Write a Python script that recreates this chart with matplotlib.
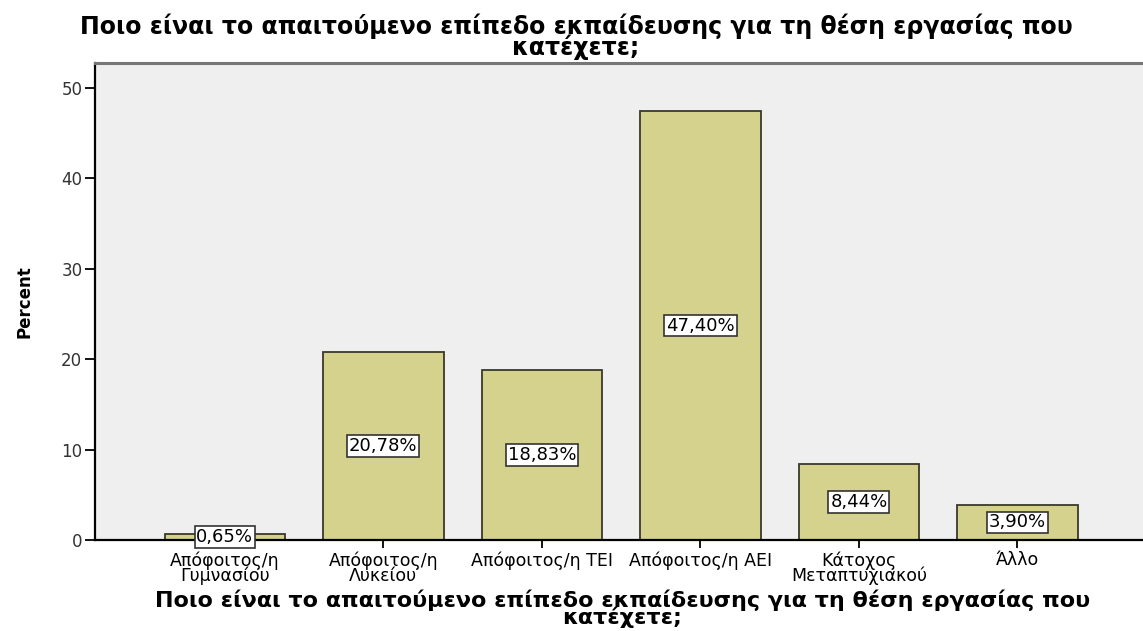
import matplotlib
matplotlib.use("Agg")
import matplotlib.pyplot as plt

categories = ["Απόφοιτος/η\nΓυμνασίου", "Απόφοιτος/η\nΛυκείου", "Απόφοιτος/η ΤΕΙ",
              "Απόφοιτος/η ΑΕΙ", "Κάτοχος\nΜεταπτυχιακού", "Άλλο"]
percent = [0.65, 20.78, 18.83, 47.40, 8.44, 3.90]
value_labels = ["0,65%", "20,78%", "18,83%", "47,40%", "8,44%", "3,90%"]
yticks = [0, 10, 20, 30, 40, 50]

title = "Ποιο είναι το απαιτούμενο επίπεδο εκπαίδευσης για τη θέση εργασίας που\nκατέχετε;"

fig = plt.figure(figsize=(11.43, 6.31), dpi=100)
ax = fig.add_axes([0.083, 0.144, 0.925, 0.756])
ax.set_facecolor("#efefef")

x = range(len(categories))
ax.bar(x, percent, width=0.76, color="#d5d28e", edgecolor="#3a3a2a", linewidth=1.3, zorder=2)

for xi, v, lab in zip(x, percent, value_labels):
    ax.text(xi, v / 2, lab, ha="center", va="center", fontsize=13, family="DejaVu Sans",
            zorder=3, bbox=dict(boxstyle="square,pad=0.1", fc="white", ec="#333333", lw=1.2))

ax.set_xlim(-0.82, 5.85)
ax.set_ylim(0, 52.7)
ax.set_yticks(yticks)
ax.set_yticklabels([str(t) for t in yticks], fontsize=12, family="DejaVu Sans", color="#333333")
ax.set_xticks(list(x))
ax.set_xticklabels(categories, fontsize=12.5, family="DejaVu Sans", linespacing=0.8)
ax.tick_params(axis="y", length=7, width=1.3, pad=2)
ax.tick_params(axis="x", length=6, width=1.3, pad=2)

ax.spines["left"].set_linewidth(1.6)
ax.spines["bottom"].set_linewidth(1.6)
ax.spines["top"].set_color("#777777")
ax.spines["top"].set_linewidth(2.2)
ax.spines["right"].set_visible(False)

ax.set_ylabel("Percent", fontsize=12, fontweight="bold", family="Liberation Sans Narrow")
ax.yaxis.set_label_coords(-0.058, 0.5)
ax.set_xlabel(title, fontsize=16, fontweight="bold", family="DejaVu Sans", linespacing=0.72)
ax.xaxis.set_label_coords(0.499, -0.104)
fig.text(0.504, 0.978, title, ha="center", va="top", fontsize=17, fontweight="bold",
         family="DejaVu Sans", linespacing=0.74)

fig.savefig("out.png", dpi=100, facecolor="white")
